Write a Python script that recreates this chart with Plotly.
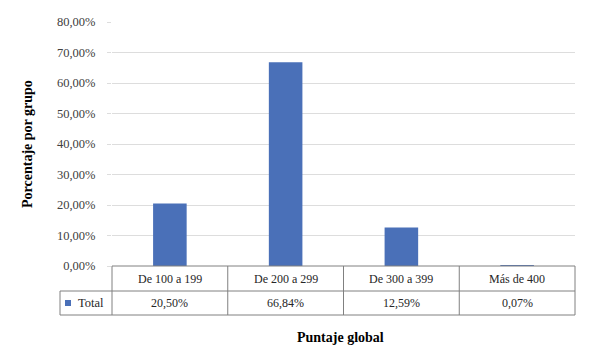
import plotly.graph_objects as go

categories = ["De 100 a 199", "De 200 a 299", "De 300 a 399", "Más de 400"]
values = [0.2050, 0.6684, 0.1259, 0.0007]
series_name = "Total"
y_title = "Porcentaje por grupo"
x_title = "Puntaje global"

BLUE = "#4A70B8"
FONT = "Liberation Serif"
BORDER = "#808080"
TXT = "#262626"

# page body has an 8px margin; compensate so the figure lands where the reference has it
OFF = 8
W, H = 603 - 2 * OFF, 348 - OFF
ML, MT = 112 - OFF, 22 - OFF
pw, ph = 463, 244
MR = W - ML - pw
MB = H - MT - ph

def py(pix):
    """pixel y (window coords) -> y domain fraction"""
    return (22 + ph - pix) / ph

def px(pix):
    return (pix - 112) / pw

row1 = py(291)
row2 = py(315)
left_tab = px(60)

fig = go.Figure()
fig.add_trace(go.Bar(x=categories, y=values, name=series_name,
                     marker=dict(color=BLUE, line=dict(width=0)),
                     width=0.29, showlegend=False))

shapes = []
n = len(categories)
line = dict(color=BORDER, width=1)
shapes.append(dict(type="line", xref="x domain", yref="y domain", x0=0, x1=1, y0=0, y1=0, line=line))
shapes.append(dict(type="line", xref="x domain", yref="y domain", x0=left_tab, x1=1, y0=row1, y1=row1, line=line))
shapes.append(dict(type="line", xref="x domain", yref="y domain", x0=left_tab, x1=1, y0=row2, y1=row2, line=line))
for i in range(n + 1):
    shapes.append(dict(type="line", xref="x domain", yref="y domain", x0=i / n, x1=i / n, y0=0, y1=row2, line=line))
shapes.append(dict(type="line", xref="x domain", yref="y domain", x0=left_tab, x1=left_tab, y0=row1, y1=row2, line=line))
# legend key
shapes.append(dict(type="rect", xref="x domain", yref="y domain",
                   x0=px(65), x1=px(71), y0=py(306), y1=py(300),
                   fillcolor=BLUE, line=dict(width=0)))

annotations = []
mid1 = (0 + row1) / 2
mid2 = (row1 + row2) / 2
for c, v in zip(categories, values):
    annotations.append(dict(x=c, xref="x", y=mid1, yref="y domain", text=c, showarrow=False,
                            xanchor="center", yanchor="middle",
                            font=dict(family=FONT, size=12, color=TXT)))
    annotations.append(dict(x=c, xref="x", y=mid2, yref="y domain",
                            text=f"{v*100:.2f}%".replace(".", ","), showarrow=False,
                            xanchor="center", yanchor="middle",
                            font=dict(family=FONT, size=12, color=TXT)))
annotations.append(dict(x=px(76), xref="x domain", y=mid2, yref="y domain",
                        text=series_name, showarrow=False, xanchor="left", yanchor="middle",
                        font=dict(family=FONT, size=12.5, color=TXT)))
annotations.append(dict(x=px(27), xref="x domain", y=0.5, yref="y domain", text=f"<b>{y_title}</b>",
                        textangle=-90, showarrow=False, xanchor="center", yanchor="middle",
                        font=dict(family=FONT, size=14, color="#000000")))
annotations.append(dict(x=px(340), xref="x domain", y=py(337), yref="y domain",
                        text=f"<b>{x_title}</b>", showarrow=False, xanchor="center", yanchor="middle",
                        font=dict(family=FONT, size=14, color="#000000")))

fig.update_layout(
    width=W, height=H,
    margin=dict(l=ML, r=MR, t=MT, b=MB, autoexpand=False),
    paper_bgcolor="white", plot_bgcolor="white",
    separators=",.",
    font=dict(family=FONT, size=12, color="#404040"),
    xaxis=dict(showticklabels=False, showgrid=False, zeroline=False, showline=False, ticks="",
               range=[-0.5, n - 0.5]),
    yaxis=dict(range=[0, 0.8], dtick=0.1, tickformat=".2%", showgrid=True, gridcolor="#DDDDDD",
               gridwidth=1, zeroline=False, showline=False, ticks="outside", ticklen=4,
               tickcolor="#DDDDDD", ticklabelstandoff=9,
               tickfont=dict(family=FONT, size=12.5, color="#404040")),
    shapes=shapes,
    annotations=annotations,
)

fig.write_html("out.html")
